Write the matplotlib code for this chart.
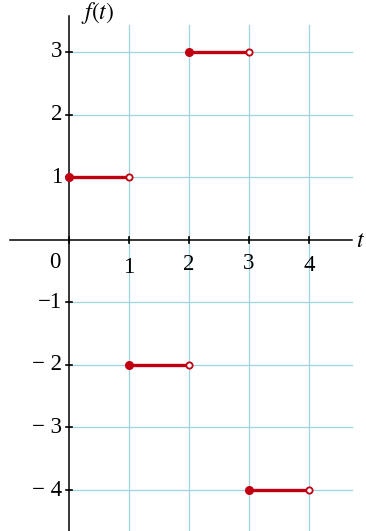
import matplotlib.pyplot as plt

starts = [0, 1, 2, 3]
ends = [1, 2, 3, 4]
values = [1, -2, 3, -4]
xticks = [1, 2, 3, 4]
xtick_y = [-0.44, -0.40, -0.38, -0.42]
yticks = [3, 2, 1, -1, -2, -3, -4]
ylabels = ["3", "2", "1", "\u22121", "\u2212 2", "\u2212 3", "\u2212 4"]

fig = plt.figure(figsize=(3.66, 5.31), dpi=100)
ax = fig.add_axes([0, 0, 1, 1])
ax.set_xlim(-1.15, 4.95)
ax.set_ylim(-4.655, 3.83)
ax.axis('off')

grid_c = '#9fd3df'
for x in xticks:
    ax.plot([x, x], [-4.7, 3.43], color=grid_c, lw=0.9, zorder=1)
for y in yticks:
    ax.plot([0, 4.72], [y, y], color=grid_c, lw=0.9, zorder=1)

# axes
ax.plot([-0.98, 4.72], [0, 0], color='black', lw=1.1, zorder=2)
ax.plot([0, 0], [-4.7, 3.57], color='black', lw=1.1, zorder=2)

# ticks
for x in [0] + xticks:
    ax.plot([x, x], [-0.05, 0.05], color='black', lw=1.2, zorder=2)
for y in yticks:
    ax.plot([-0.05, 0.05], [y, y], color='black', lw=1.2, zorder=2)

font = dict(family='Liberation Serif', fontsize=16.5)
for x, ty in zip(xticks, xtick_y):
    ax.text(x, ty, str(x), ha='center', va='center', **font)
ax.text(-0.23, -0.36, "0", ha='center', va='center', **font)
for y, lab in zip(yticks, ylabels):
    ax.text(-0.11, y, lab, ha='right', va='center', **font)

ax.text(0.2, 3.63, "$f(t)$", ha='left', va='center', fontsize=17,
        math_fontfamily='stix')
ax.text(4.78, 0.0, "$t$", ha='left', va='center', fontsize=17,
        math_fontfamily='stix')

red = '#c00010'
for s, e, v in zip(starts, ends, values):
    ax.plot([s, e], [v, v], color=red, lw=2.4, zorder=3, solid_capstyle='butt')
    ax.plot([s], [v], 'o', color=red, ms=5.5, zorder=4)
    ax.plot([e], [v], 'o', mfc='white', mec=red, mew=1.3, ms=4.5, zorder=4)

fig.savefig('out.png', dpi=100)
